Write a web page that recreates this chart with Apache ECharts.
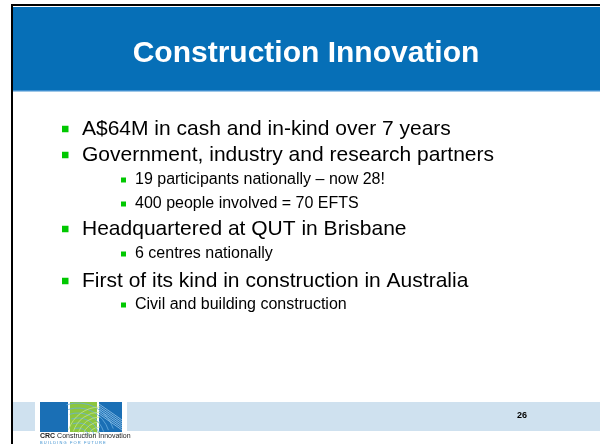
<!DOCTYPE html>
<html>
<head>
<meta charset="utf-8">
<script src="https://cdn.jsdelivr.net/npm/echarts@6/dist/echarts.min.js"></script>
<style>
  html, body { margin: 0; padding: 0; background: #fff; }
  #main { width: 600px; height: 444px; }
</style>
</head>
<body>
<div id="main"></div>
<script>
var titleText = 'Construction Innovation';
var bulletTexts = [
  'A$64M in cash and in-kind over 7 years',
  'Government, industry and research partners',
  '19 participants nationally \u2013 now 28!',
  '400 people involved = 70 EFTS',
  'Headquartered at QUT in Brisbane',
  '6 centres nationally',
  'First of its kind in construction in Australia',
  'Civil and building construction'
];
var bulletLevels = [1, 1, 2, 2, 1, 2, 1, 2];
var bulletY = [129, 155, 180, 204, 229, 254, 281, 305];
var pageNumber = '26';

var font = '"Liberation Sans", Arial, sans-serif';
var elements = [];

// slide frame
elements.push({ type: 'rect', shape: { x: 12, y: 5, width: 600, height: 450 }, style: { fill: '#fff', stroke: '#000', lineWidth: 2 } });
// title bar
elements.push({ type: 'rect', shape: { x: 13, y: 7, width: 590, height: 84 }, style: { fill: '#066fb7' } });
elements.push({ type: 'rect', shape: { x: 13, y: 90, width: 590, height: 1.5 }, style: { fill: '#3f8fd0' } });
elements.push({
  type: 'text', x: 306, y: 54,
  style: { text: titleText, fill: '#fff', font: 'bold 30px ' + font, textAlign: 'center', textVerticalAlign: 'middle' }
});

// bullets
bulletTexts.forEach(function (t, i) {
  var lvl = bulletLevels[i];
  var y = bulletY[i];
  var bx = lvl === 1 ? 62 : 121;
  var bs = lvl === 1 ? 6.5 : 5;
  var tx = lvl === 1 ? 82 : 135;
  elements.push({ type: 'rect', shape: { x: bx, y: y - bs / 2, width: bs, height: bs }, style: { fill: '#00c800' } });
  elements.push({
    type: 'text', x: tx, y: y,
    style: { text: t, fill: '#000', font: (lvl === 1 ? '21px ' : '16px ') + font, textVerticalAlign: 'middle' }
  });
});

// footer band
elements.push({ type: 'rect', shape: { x: 13, y: 402, width: 22, height: 29 }, style: { fill: '#cfe1ef' } });
elements.push({ type: 'rect', shape: { x: 127, y: 402, width: 480, height: 29 }, style: { fill: '#cfe1ef' } });
elements.push({
  type: 'text', x: 522, y: 416,
  style: { text: pageNumber, fill: '#000', font: 'bold 9px ' + font, textAlign: 'center', textVerticalAlign: 'middle' }
});

// logo squares
elements.push({ type: 'rect', shape: { x: 40, y: 402, width: 28, height: 30 }, style: { fill: '#1a6fb5' } });
elements.push({ type: 'rect', shape: { x: 70, y: 402, width: 27, height: 30 }, style: { fill: '#8cc63f' } });
elements.push({ type: 'rect', shape: { x: 99, y: 402, width: 23, height: 30 }, style: { fill: '#1a6fb5' } });
[0, 1, 2, 3, 4, 5].forEach(function (k) {
  elements.push({ type: 'arc', shape: { cx: 78, cy: 440, r: 12 + k * 5, startAngle: -Math.PI * 0.6, endAngle: -Math.PI * 0.1 }, style: { stroke: '#6aaee0', lineWidth: 0.8, fill: null } });
  elements.push({ type: 'arc', shape: { cx: 100, cy: 440, r: 8 + k * 5, startAngle: -Math.PI * 0.9, endAngle: -Math.PI * 0.5 }, style: { stroke: '#c4e38c', lineWidth: 0.8, fill: null } });
  elements.push({ type: 'line', shape: { x1: 99, y1: 404 + k * 2, x2: 122, y2: 420 + k * 2 }, style: { stroke: '#a9d3f2', lineWidth: 0.7 } });
});
elements.push({
  type: 'text', x: 40, y: 436,
  style: { text: '{b|CRC} Construction Innovation', fill: '#222', font: '7px ' + font, textVerticalAlign: 'middle',
    rich: { b: { font: 'bold 7px ' + font, fill: '#222' } } }
});
elements.push({
  type: 'text', x: 40, y: 443,
  style: { text: 'B U I L D I N G   F O R   F U T U R E', fill: '#3a8fd0', font: '4px ' + font, textVerticalAlign: 'middle' }
});

var myChart = echarts.init(document.getElementById('main'));
myChart.setOption({
  animation: false,
  graphic: { elements: elements }
});
</script>
</body>
</html>
